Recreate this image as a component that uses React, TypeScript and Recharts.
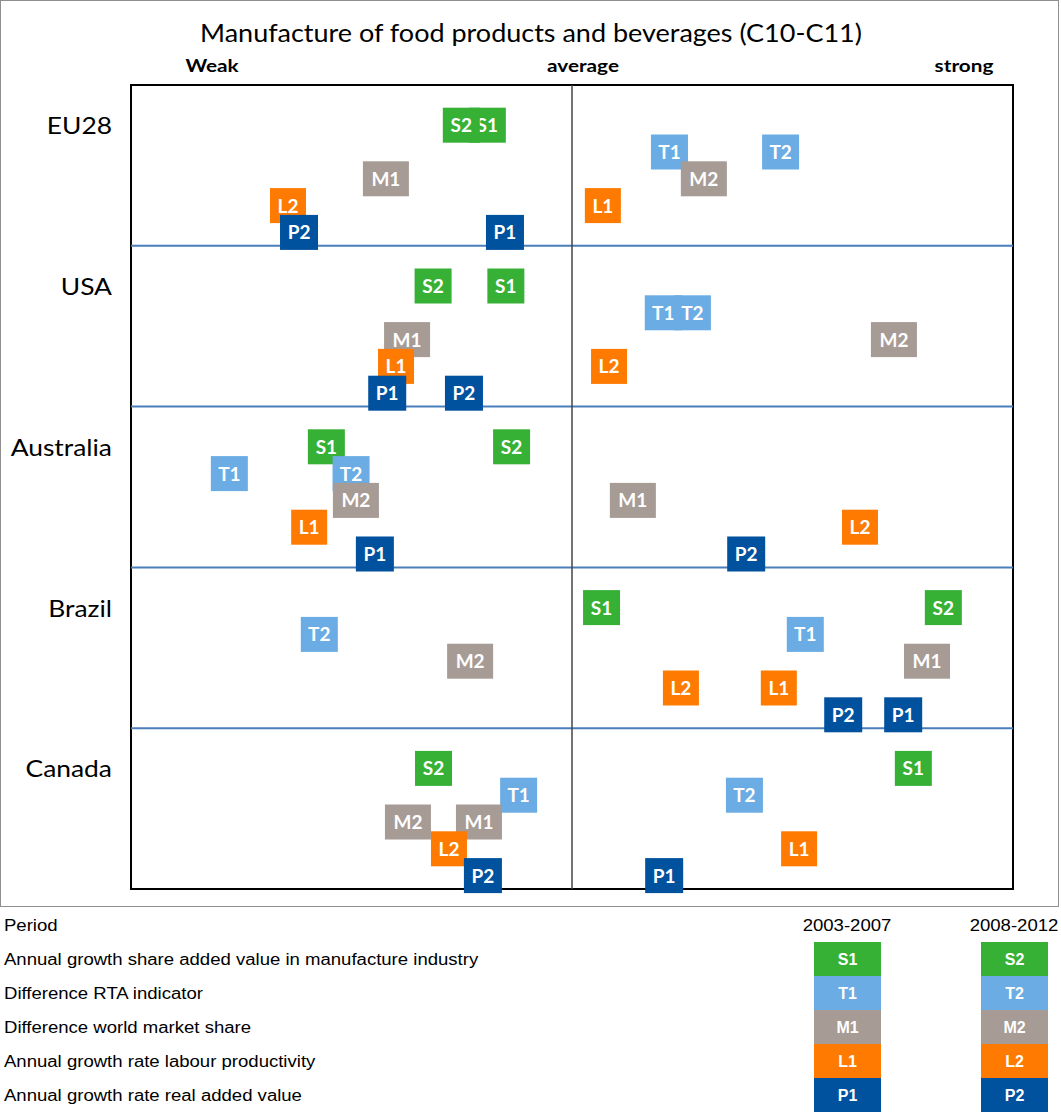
import React from "react"
import {
  ScatterChart,
  Scatter,
  XAxis,
  YAxis,
  ReferenceLine,
  ReferenceArea,
} from "recharts"

// Rows of the chart, top to bottom
const countries = ["EU28", "USA", "Australia", "Brazil", "Canada"]

// Position on the weak (-100) .. strong (+100) scale, one value per country
const s1 = [-19.2, -15.0, -55.7, 6.7, 77.4]
const s2 = [-25.1, -31.5, -13.7, 84.2, -31.4]
const t1 = [22.1, 20.7, -77.7, 52.9, -12.1]
const t2 = [47.3, 27.3, -50.1, -57.3, 39.1]
const m1 = [-42.2, -37.4, 13.8, 80.5, -21.1]
const m2 = [29.9, 73.0, -49.0, -23.1, -37.2]
const l1 = [7.0, -39.9, -59.6, 46.9, 51.5]
const l2 = [-64.4, 8.4, 65.3, 24.7, -27.9]
const p1 = [-15.2, -41.9, -44.7, 75.1, 20.9]
const p2 = [-61.9, -24.5, 39.5, 61.5, -20.2]

const indicatorNames = [
  "Annual growth share added value in manufacture industry",
  "Difference RTA indicator",
  "Difference world market share",
  "Annual growth rate labour productivity",
  "Annual growth rate real added value",
]
const periods = ["2003-2007", "2008-2012"]
const scaleLabels = ["Weak", "average", "strong"]
const title = "Manufacture of food products and beverages (C10-C11)"

const COLORS = ["#36b136", "#6aace3", "#a69b95", "#ff7a00", "#00519e"]
const BOX_W = [37, 37, 46, 36, 38]
const BOX_H = 35

const ROW_UNITS = 6
const Y_MAX = countries.length * ROW_UNITS

const series = [
  { key: "S1", level: 0, values: s1 },
  { key: "S2", level: 0, values: s2 },
  { key: "T1", level: 1, values: t1 },
  { key: "T2", level: 1, values: t2 },
  { key: "M1", level: 2, values: m1 },
  { key: "M2", level: 2, values: m2 },
  { key: "L1", level: 3, values: l1 },
  { key: "L2", level: 3, values: l2 },
  { key: "P1", level: 4, values: p1 },
  { key: "P2", level: 4, values: p2 },
]

// y of an indicator inside a country's band
const rowY = (row: number, level: number) => Y_MAX - row * ROW_UNITS - (level + 1.5)

const countryTicks = countries.map((_, r) => rowY(r, 0))

const chartFont = "Lato, sans-serif"
const legendFont = "Arial, 'Liberation Sans', sans-serif"

// the original uses a wider face, so text is stretched sideways a little
function WideText({ x, y, sx, children, ...rest }: any) {
  return (
    <text transform={`translate(${x} ${y}) scale(${sx} 1)`} x={0} y={0} {...rest}>
      {children}
    </text>
  )
}

function LabelBox(props: any) {
  const { cx, cy, label, level } = props
  if (cx == null || cy == null) return null
  const w = BOX_W[level]
  return (
    <g>
      <rect x={cx - w / 2} y={cy - BOX_H / 2} width={w} height={BOX_H} fill={COLORS[level]} />
      <text
        x={cx}
        y={cy + 7}
        textAnchor="middle"
        fill="#fff"
        fontFamily={chartFont}
        fontWeight="bold"
        fontSize={19}
      >
        {label}
      </text>
    </g>
  )
}

function CountryTick(props: any) {
  const { x, y, payload } = props
  const name = countries[countryTicks.indexOf(payload.value)] ?? ""
  return (
    <WideText x={x} y={y + 9} sx={1.1} textAnchor="end" fill="#000" fontSize={24} fontFamily={chartFont}>
      {name}
    </WideText>
  )
}

export default function App() {
  return (
    <div style={{ position: "absolute", left: 0, top: 0, width: 1061, height: 1113, background: "#fff" }}>
      <div
        style={{
          position: "absolute",
          left: 0,
          top: 0,
          width: 1059,
          height: 907,
          border: "1px solid #8e8e8e",
          boxSizing: "border-box",
        }}
      />
      <div style={{ position: "absolute", left: 0, top: 0 }}>
        <ScatterChart width={1061} height={1113} margin={{ top: 85, right: 48, bottom: 224, left: 0 }}>
          <XAxis type="number" dataKey="x" domain={[-100, 100]} hide />
          <YAxis
            type="number"
            dataKey="y"
            domain={[0, Y_MAX]}
            width={131}
            ticks={countryTicks}
            interval={0}
            tick={<CountryTick />}
            tickLine={false}
            axisLine={false}
            tickSize={0}
            tickMargin={19}
          />
          <ReferenceArea x1={-100} x2={100} y1={0} y2={Y_MAX} fill="none" stroke="#000" strokeWidth={2} />
          {countries.slice(1).map((c, i) => (
            <ReferenceLine key={c} y={Y_MAX - (i + 1) * ROW_UNITS} stroke="#4a7ebb" strokeWidth={2} />
          ))}
          <ReferenceLine x={0} stroke="#444" strokeWidth={1.5} />
          {series.map((s) => (
            <Scatter
              key={s.key}
              name={s.key}
              data={countries.map((c, r) => ({ x: s.values[r], y: rowY(r, s.level), country: c }))}
              isAnimationActive={false}
              shape={(p: any) => <LabelBox {...p} label={s.key} level={s.level} />}
            />
          ))}
        </ScatterChart>
      </div>
      <svg
        width={1061}
        height={1113}
        style={{ position: "absolute", left: 0, top: 0, pointerEvents: "none" }}
      >
        <WideText x={531} y={42} sx={1.08} textAnchor="middle" fontFamily={chartFont} fontSize={25} fill="#000">
          {title}
        </WideText>
        {scaleLabels.map((t, i) => (
          <WideText
            key={t}
            x={[212, 583, 964][i]}
            y={72}
            sx={1.22}
            textAnchor="middle"
            fontFamily={chartFont}
            fontWeight="bold"
            fontSize={17}
            fill="#000"
          >
            {t}
          </WideText>
        ))}
        <WideText x={4} y={931} sx={1.16} fontFamily={legendFont} fontSize={16} fill="#000">
          Period
        </WideText>
        {periods.map((p, j) => (
          <WideText
            key={p}
            x={[847, 1014][j]}
            y={931}
            sx={1.16}
            textAnchor="middle"
            fontFamily={legendFont}
            fontSize={16}
            fill="#000"
          >
            {p}
          </WideText>
        ))}
        {indicatorNames.map((name, i) => (
          <g key={name}>
            <WideText x={4} y={965 + i * 34} sx={1.16} fontFamily={legendFont} fontSize={16} fill="#000">
              {name}
            </WideText>
            {[0, 1].map((j) => (
              <g key={j}>
                <rect x={[814, 981][j]} y={942 + i * 34} width={67} height={34} fill={COLORS[i]} />
                <text
                  x={[847.5, 1014.5][j]}
                  y={965 + i * 34}
                  textAnchor="middle"
                  fontFamily={legendFont}
                  fontWeight="bold"
                  fontSize={16}
                  fill="#fff"
                >
                  {series[i * 2 + j].key}
                </text>
              </g>
            ))}
          </g>
        ))}
      </svg>
    </div>
  )
}
